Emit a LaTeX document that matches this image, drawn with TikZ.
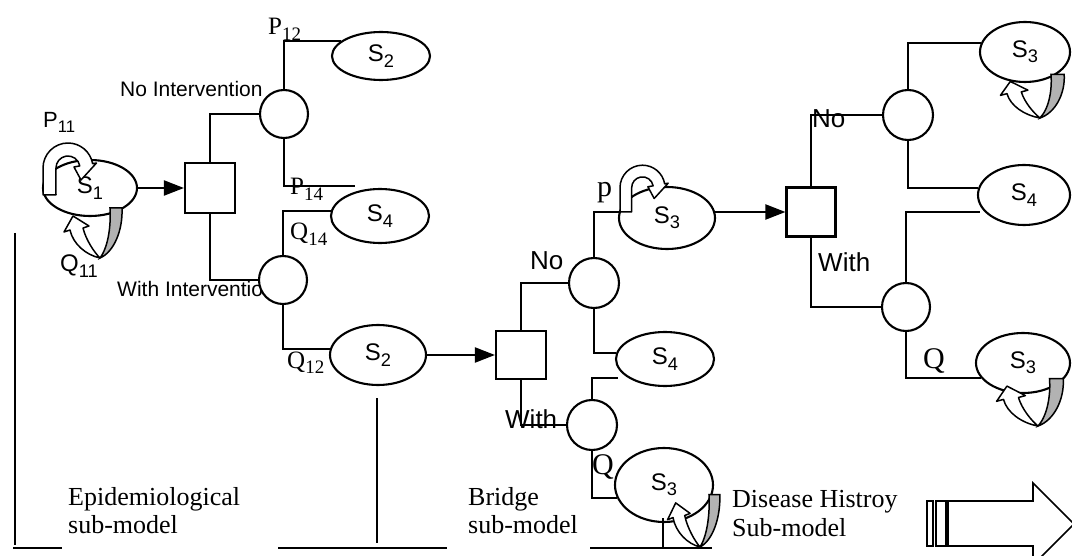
\documentclass[tikz,border=0pt]{standalone}
\usepackage{graphicx}
\usepackage{fontspec}
\setmainfont{Liberation Serif}
\newfontfamily\sansf{Liberation Sans}
\usetikzlibrary{shapes.geometric,arrows.meta}
\newcommand\sbx[1]{\raisebox{-0.22em}{\scalebox{0.76}{#1}}}
\tikzset{
 ln/.style={line width=2.1pt},
 arr/.style={-{Triangle[length=20pt,width=15pt]}},
 st/.style={ellipse, draw, line width=2.1pt, fill=white, inner sep=0pt, font=\sansf\fontsize{24}{26}\selectfont},
 ch/.style={circle, draw, line width=2.1pt, fill=white, inner sep=0pt},
 dec/.style={rectangle, draw, line width=2.1pt, fill=white, inner sep=0pt},
 lbs/.style={font=\sansf\fontsize{21}{24}\selectfont, inner sep=0pt, anchor=base west},
 lbb/.style={font=\sansf\fontsize{26}{28}\selectfont, inner sep=0pt, anchor=base west},
 lsa/.style={font=\sansf\fontsize{22}{24}\selectfont, inner sep=0pt, anchor=base west},
 lsb/.style={font=\sansf\fontsize{24}{26}\selectfont, inner sep=0pt, anchor=base west},
 lser/.style={font=\fontsize{25}{27}\selectfont, inner sep=0pt, anchor=base west},
 lbig/.style={font=\fontsize{30}{32}\selectfont, inner sep=0pt, anchor=base west},
 ttl/.style={font=\fontsize{26}{28}\selectfont, inner sep=0pt, anchor=base west},
 pics/ploop/.style={code={
   \draw[line width=1.5pt, fill=white, line join=round] (0,0) -- (0,27) arc[start angle=180,end angle=10,radius=25] -- (53.5,32) -- (38,15) -- (31,28) -- (36.8,29.1) arc[start angle=10,end angle=180,radius=12] -- (13,0) -- cycle;
 }},
 pics/qloop/.style={code={
   \draw[line width=1.5pt, fill=gray!60] (0,0) .. controls (9,12) and (11,35) .. (10,50) -- (22,50) .. controls (23,28) and (14,6) .. (0,0) -- cycle;
   \draw[line width=1.5pt, fill=white, line join=round] (0,0) .. controls (-14,3) and (-27,14) .. (-30,28) -- (-36,26) -- (-27,42) -- (-11,32) -- (-17,30) .. controls (-14,18) and (-6,6) .. (0,0) -- cycle;
 }},
}
\begin{document}
\begin{tikzpicture}[x=1pt,y=1pt]
\useasboundingbox (0,0) rectangle (1072,-556);
\clip (0,0) rectangle (1072,-556);
% ---- labels (drawn first, nodes may cover them) ----
\node[lser] (p12) at (268,-35) {P\sbx{12}};
\node[lbs] (noint) at (120,-97) {No Intervention};
\node[lser] (p14) at (290,-195) {P\sbx{14}};
\node[lser] (q14) at (290,-240) {Q\sbx{14}};
\node[lbs] (withint) at (117,-297) {With Intervention};
\node[lser] (q12) at (287,-368) {Q\sbx{12}};
\node[lsa] (p11) at (43,-128) {P\sbx{11}};
\node[lsb] (q11) at (60,-272) {Q\sbx{11}};
\node[lbb] (nob) at (530,-270) {No};
\node[lbig] (pp) at (597,-197) {p};
\node[lbb] (withb) at (505,-428) {With};
\node[lbig] (qb) at (592,-474) {Q};
\node[lbb] (nor) at (812,-128) {No};
\node[lbb] (withr) at (818,-272) {With};
\node[lbig] (qr) at (923,-368) {Q};
\node[ttl] (epi1) at (68,-505) {Epidemiological};
\node[ttl] (epi2) at (68,-533) {sub-model};
\node[ttl] (br1) at (468,-505) {Bridge};
\node[ttl] (br2) at (468,-533) {sub-model};
\node[ttl] (dh1) at (732,-507) {Disease Histroy};
\node[ttl] (dh2) at (732,-536) {Sub-model};
% ---- nodes ----
\node[st, minimum width=94pt, minimum height=56pt] (S1) at (90,-188) {S\sbx{1}};
\node[dec, minimum width=50pt, minimum height=50pt] (Box1) at (210,-188) {};
\node[ch, minimum size=48pt] (C1) at (284,-114) {};
\node[ch, minimum size=48pt] (C2) at (283,-280) {};
\node[st, minimum width=98pt, minimum height=48pt] (S2a) at (381,-56) {S\sbx{2}};
\node[st, minimum width=98pt, minimum height=54pt] (S4a) at (380,-216) {S\sbx{4}};
\node[st, minimum width=96pt, minimum height=60pt] (S2b) at (378,-355) {S\sbx{2}};
\node[dec, minimum width=50pt, minimum height=48pt] (Box2) at (521,-355) {};
\node[ch, minimum size=50pt] (CA) at (594,-283) {};
\node[ch, minimum size=50pt] (CB) at (592,-425) {};
\node[st, minimum width=96pt, minimum height=62pt] (S3a) at (667,-218) {S\sbx{3}};
\node[st, minimum width=98pt, minimum height=54pt] (S4b) at (665,-359) {S\sbx{4}};
\node[st, minimum width=98pt, minimum height=74pt] (S3b) at (664,-485) {S\sbx{3}};
\node[dec, minimum width=49pt, minimum height=49pt] (Box3) at (811,-212) {};
\node[ch, minimum size=50pt] (CC) at (908,-115) {};
\node[ch, minimum size=48pt] (CD) at (906,-307) {};
\node[st, minimum width=90pt, minimum height=60pt] (S3c) at (1025,-52) {S\sbx{3}};
\node[st, minimum width=92pt, minimum height=60pt] (S4c) at (1024,-195) {S\sbx{4}};
\node[st, minimum width=94pt, minimum height=60pt] (S3d) at (1023,-363) {S\sbx{3}};
% ---- connectors ----
\draw[ln,arr] (S1.east) -- (Box1.west);
\draw[ln] (Box1.north) |- (C1.west);
\draw[ln] (Box1.south) |- (C2.west);
\draw[ln] (C1.north) |- (S2a.160);
\coordinate (p14end) at (355,-186);
\draw[ln] (C1.south) |- (p14end);
\draw[ln] (C2.north) |- (S4a.174);
\draw[ln] (C2.south) |- (S2b.173);
\draw[ln,arr] (S2b.east) -- (Box2.west);
\draw[ln] (Box2.north) |- (CA.west);
\draw[ln] (Box2.south) |- (CB.west);
\draw[ln] (CA.north) |- (S3a.173);
\draw[ln] (CA.south) |- (S4b.173);
\coordinate (bfree) at (618,-378);
\draw[ln] (CB.north) |- (bfree);
\draw[ln] (CB.south) |- (S3b.195);
\draw[ln,arr] (S3a.7 |- Box3.west) -- (Box3.west);
\draw[ln] (Box3.north) |- (CC.west);
\draw[ln] (Box3.south) |- (CD.west);
\draw[ln] (CC.north) |- (S3c.169);
\draw[ln] (CC.south) |- (S4c.171);
\coordinate (rfree) at (980,-212);
\draw[ln] (CD.north) |- (rfree);
\draw[ln] (CD.south) |- (S3d.200);
% ---- self loops ----
\pic at (43,-195) {ploop};
\pic[scale=0.9] at (620,-212) {ploop};
\pic at (100,-258) {qloop};
\pic[xscale=0.9,yscale=1.05] at (700,-547) {qloop};
\pic[xscale=1.1,yscale=0.87] at (1040,-118) {qloop};
\pic[xscale=1.15,yscale=0.95] at (1038,-426) {qloop};
% ---- sub-model brackets ----
\draw[ln] (15,-233) -- (15,-545);
\draw[ln] (13,-548) -- (62,-548);
\draw[ln] (377,-398) -- (377,-543);
\draw[ln] (278,-548) -- (447,-548);
\draw[ln] (663,-518) -- (663,-547);
\draw[ln] (590,-548) -- (712,-548);
% ---- big hollow arrow ----
\draw[line width=1.6pt] (927,-501) rectangle (933,-546);
\draw[line width=1.6pt] (936,-501) rectangle (946,-546);
\draw[line width=1.6pt, fill=white, line join=miter] (948,-501) -- (1033,-501) -- (1033,-483) -- (1074,-524) -- (1033,-565) -- (1033,-546) -- (948,-546) -- cycle;
\end{tikzpicture}
\end{document}
